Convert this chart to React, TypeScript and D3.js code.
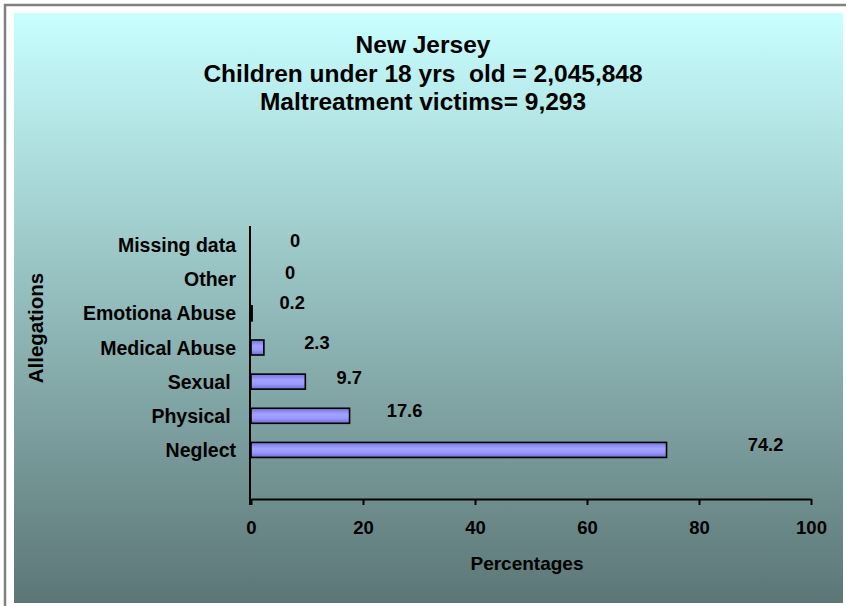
import { useEffect, useRef } from "react";
import * as d3 from "d3";

const TITLE_LINES = [
  "New Jersey",
  "Children under 18 yrs  old = 2,045,848",
  "Maltreatment victims= 9,293",
];
const categories = [
  "Missing data",
  "Other",
  "Emotiona Abuse",
  "Medical Abuse",
  "Sexual ",
  "Physical ",
  "Neglect",
];
const values = [0, 0, 0.2, 2.3, 9.7, 17.6, 74.2];
const xTicks = [0, 20, 40, 60, 80, 100];

// hand-placed data label offsets (from bar end), as in the original sheet
const LABEL_NUDGE: [number, number][] = [
  [44, -5],
  [39, -7],
  [40, -11],
  [53, -5],
  [44, -4],
  [55, -5],
  [99, -6],
];

const W = 846;
const H = 606;
const PLOT = { left: 251, right: 811, top: 228, bottom: 499 };
const FONT = "'Liberation Sans', Arial, sans-serif";

export default function App() {
  const gRef = useRef<SVGGElement>(null);

  useEffect(() => {
    if (!gRef.current) return;
    const g = d3.select(gRef.current);
    g.selectAll("*").remove();

    const x = d3.scaleLinear().domain([0, 100]).range([PLOT.left, PLOT.right]);
    const y = d3
      .scaleBand()
      .domain(categories)
      .range([PLOT.top, 467])
      .paddingInner(0.56)
      .paddingOuter(0.28);

    // Bars
    g.selectAll(".bar")
      .data(values)
      .join("rect")
      .attr("class", "bar")
      .attr("x", x(0))
      .attr("y", (_, i) => y(categories[i]) ?? 0)
      .attr("width", (d) => Math.max(0, x(d) - x(0)))
      .attr("height", y.bandwidth())
      .attr("fill", "url(#barGrad)")
      .attr("stroke", "#000")
      .attr("stroke-width", 1.6)
      .style("display", (d) => (d > 0 ? null : "none"));

    // X axis
    const xa = g
      .append("g")
      .attr("transform", `translate(0,${PLOT.bottom})`)
      .call(
        d3
          .axisBottom(x)
          .tickValues(xTicks)
          .tickSize(6)
          .tickPadding(16)
          .tickSizeOuter(0)
      );
    xa.select(".domain").attr("stroke", "#000").attr("stroke-width", 2);
    xa.selectAll(".tick line").attr("stroke", "#000").attr("stroke-width", 2);
    xa.selectAll("text")
      .attr("fill", "#000")
      .attr("font-size", 18.5)
      .attr("font-weight", "bold")
      .attr("font-family", FONT);

    // Y axis line
    g.append("line")
      .attr("x1", PLOT.left - 1)
      .attr("x2", PLOT.left - 1)
      .attr("y1", 226)
      .attr("y2", PLOT.bottom + 6)
      .attr("stroke", "#000")
      .attr("stroke-width", 2);

    // Category labels
    g.selectAll(".cat")
      .data(categories)
      .join("text")
      .attr("class", "cat")
      .attr("x", 236)
      .attr("y", (d) => (y(d) ?? 0) + y.bandwidth() / 2)
      .attr("dy", "0.36em")
      .attr("text-anchor", "end")
      .attr("font-size", 19.5)
      .attr("font-weight", "bold")
      .attr("font-family", FONT)
      .style("white-space", "pre")
      .text((d) => d);

    // Data labels
    g.selectAll(".val")
      .data(values)
      .join("text")
      .attr("class", "val")
      .attr("x", (d, i) => x(d) + LABEL_NUDGE[i][0])
      .attr("y", (_, i) => (y(categories[i]) ?? 0) + y.bandwidth() / 2 + LABEL_NUDGE[i][1])
      .attr("dy", "0.36em")
      .attr("text-anchor", "middle")
      .attr("font-size", 18.3)
      .attr("font-weight", "bold")
      .attr("font-family", FONT)
      .text((d) => String(d));
  }, []);

  return (
    <div style={{ position: "fixed", left: 0, top: 0 }}>
      <svg width={W} height={H} style={{ display: "block" }}>
        <defs>
          <linearGradient id="bgGrad" x1="0" y1="0" x2="0" y2="1">
            <stop offset="0" stopColor="#c8ffff" />
            <stop offset="1" stopColor="#5c7676" />
          </linearGradient>
          <linearGradient id="barGrad" x1="0" y1="0" x2="0" y2="1">
            <stop offset="0" stopColor="#7474dc" />
            <stop offset="0.4" stopColor="#a2a2ff" />
            <stop offset="0.65" stopColor="#9a9aff" />
            <stop offset="1" stopColor="#6e6ed4" />
          </linearGradient>
        </defs>
        <rect x={0} y={0} width={W} height={H} fill="#fff" />
        <rect x={5} y={5} width={W + 10} height={H + 10} fill="none" stroke="#808080" strokeWidth={2.5} />
        <rect x={14} y={13} width={829} height={590} fill="url(#bgGrad)" />
        {TITLE_LINES.map((t, i) => (
          <text
            key={i}
            x={423}
            y={44 + i * 28.8}
            dy="0.36em"
            textAnchor="middle"
            fontSize={24.5}
            fontWeight="bold"
            fontFamily={FONT}
            style={{ whiteSpace: "pre" }}
          >
            {t}
          </text>
        ))}
        <text
          transform="translate(36,328) rotate(-90)"
          dy="0.36em"
          textAnchor="middle"
          fontSize={20.5}
          fontWeight="bold"
          fontFamily={FONT}
        >
          Allegations
        </text>
        <text
          x={527}
          y={563}
          dy="0.36em"
          textAnchor="middle"
          fontSize={19}
          fontWeight="bold"
          fontFamily={FONT}
        >
          Percentages
        </text>
        <g ref={gRef} />
      </svg>
    </div>
  );
}
